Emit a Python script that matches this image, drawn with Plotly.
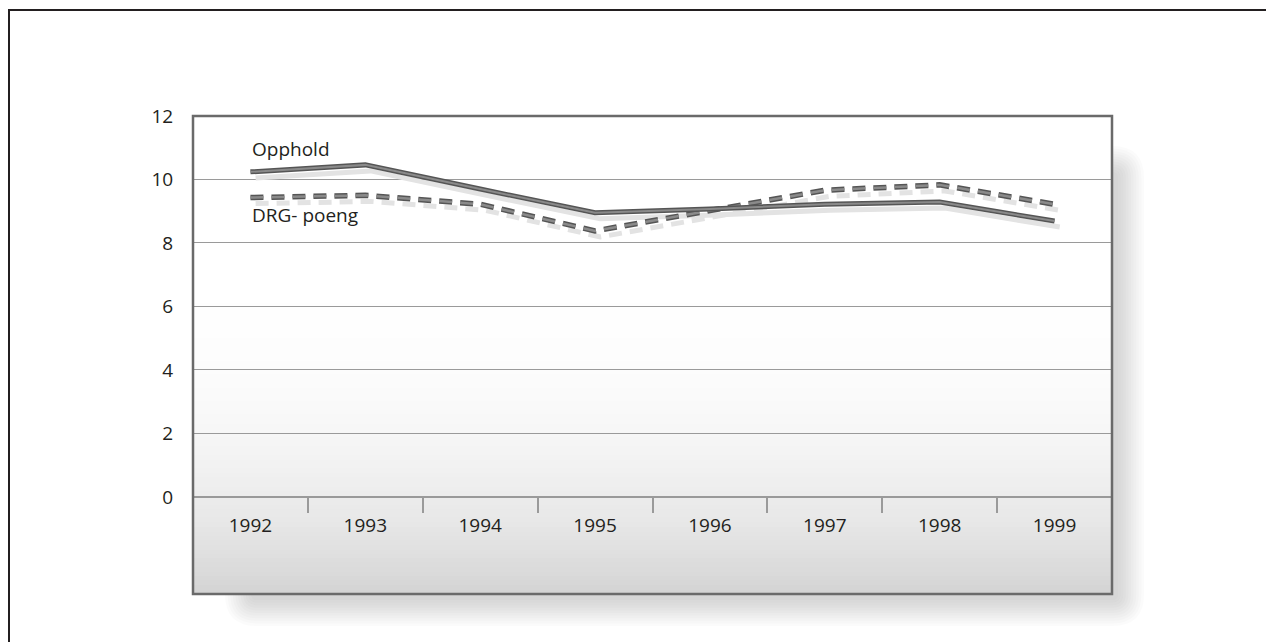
import plotly.graph_objects as go

# ---- data ----
years = ["1992", "1993", "1994", "1995", "1996", "1997", "1998", "1999"]
opphold = [10.24, 10.46, 9.70, 8.95, 9.07, 9.22, 9.29, 8.69]
drg_poeng = [9.43, 9.50, 9.22, 8.38, 9.02, 9.66, 9.83, 9.22]
y_ticks = [0, 2, 4, 6, 8, 10, 12]
label_opphold = "Opphold"
label_drg = "DRG- poeng"

# ---- style ----
W_FIG, H_FIG = 1274, 642
OFF = 8  # page body margin
L, T = 193 - OFF, 116 - OFF
PW, PH = 919, 478
R, B = W_FIG - L - PW, H_FIG - T - PH
Y_MIN, Y_MAX = -3.06, 12
SHADOW_DX, SHADOW_DY = 0.045, -0.19
FONT = "Open Sans"
FS = 19


idx = list(range(len(years)))
sx = [i + SHADOW_DX for i in idx]


def pxx(px):
    # px in screen coordinates
    return (px - OFF - L) / PW


def pxy(py):
    return (T + PH - (py - OFF)) / PH


def rrect(x0, y0, x1, y1, r):
    X0, X1 = pxx(x0), pxx(x1)
    Y0, Y1 = pxy(y0), pxy(y1)
    rx, ry = r / PW, r / PH
    return (f"M {X0+rx},{Y0} L {X1-rx},{Y0} Q {X1},{Y0} {X1},{Y0-ry} "
            f"L {X1},{Y1+ry} Q {X1},{Y1} {X1-rx},{Y1} L {X0+rx},{Y1} "
            f"Q {X0},{Y1} {X0},{Y1+ry} L {X0},{Y0-ry} Q {X0},{Y0} {X0+rx},{Y0} Z")


fig = go.Figure()

# shadows of lines
fig.add_trace(go.Scatter(x=sx, y=[v + SHADOW_DY for v in opphold], mode="lines",
                         line=dict(color="#e3e3e3", width=5), hoverinfo="skip", showlegend=False))
fig.add_trace(go.Scatter(x=sx, y=[v + SHADOW_DY for v in drg_poeng], mode="lines",
                         line=dict(color="#e3e3e3", width=5, dash="13px,8px"), hoverinfo="skip", showlegend=False))
# main lines (outline + fill)
fig.add_trace(go.Scatter(x=idx, y=drg_poeng, mode="lines",
                         line=dict(color="#555555", width=5.5, dash="13px,8px"), showlegend=False))
fig.add_trace(go.Scatter(x=idx, y=drg_poeng, mode="lines",
                         line=dict(color="#8a8a8a", width=2.5, dash="13px,8px"), showlegend=False))
fig.add_trace(go.Scatter(x=idx, y=opphold, mode="lines",
                         line=dict(color="#555555", width=5), showlegend=False))
fig.add_trace(go.Scatter(x=idx, y=opphold, mode="lines",
                         line=dict(color="#8a8a8a", width=2), showlegend=False))

shapes = []
# drop shadow of the box
for i in range(11):
    ins = i * 2.6
    shapes.append(dict(type="path", xref="paper", yref="paper", layer="below",
                       path=rrect(225 + ins, 146 + ins, 1144 - ins, 626 - ins, max(32 - ins, 6)),
                       fillcolor="rgba(120,120,120,0.032)", line=dict(width=0)))
# plot area background with vertical gradient
shapes.append(dict(type="rect", xref="paper", yref="paper", x0=0, x1=1, y0=0, y1=1,
                   layer="below", fillcolor="white", line=dict(width=0)))
N = 80
top = 0.75
for k in range(N):
    y0 = top * k / N
    y1 = top * (k + 1) / N + 0.002
    t = (1 - (y0 + y1) / 2 / top)
    g = int(round(255 - 44 * t ** 2.7))
    shapes.append(dict(type="rect", xref="paper", yref="paper", x0=0, x1=1, y0=y0, y1=y1,
                       layer="below", fillcolor=f"rgb({g},{g},{g})", line=dict(width=0)))
# box border
shapes.append(dict(type="rect", xref="paper", yref="paper", x0=0, x1=1, y0=0, y1=1,
                   layer="above", line=dict(color="#6a6a6a", width=2.5)))
# outer frame
shapes.append(dict(type="rect", xref="paper", yref="paper",
                   x0=pxx(9), x1=pxx(1300), y0=pxy(670), y1=pxy(10),
                   layer="above", line=dict(color="#231f20", width=2)))

zero_pos = (0 - Y_MIN) / (Y_MAX - Y_MIN)

fig.update_layout(
    width=W_FIG, height=H_FIG,
    margin=dict(l=L, r=R, t=T, b=B),
    paper_bgcolor="white", plot_bgcolor="white",
    font=dict(family=FONT, size=FS, color="#231f20"),
    shapes=shapes,
    xaxis=dict(range=[-0.5, len(years) - 0.5], tickvals=idx, ticktext=years,
               showgrid=False, zeroline=False, anchor="free", position=zero_pos,
               showline=True, linecolor="#9a9a9a", linewidth=1.5,
               ticks="outside", ticklen=12, tickcolor="rgba(0,0,0,0)",
               minor=dict(tickvals=[i + 0.5 for i in idx[:-1]], ticks="outside",
                          ticklen=15, tickcolor="#9a9a9a", tickwidth=1.5),
               tickfont=dict(size=FS, color="#231f20"), fixedrange=True),
    yaxis=dict(range=[Y_MIN, Y_MAX], tickvals=y_ticks, showgrid=True,
               gridcolor="#9a9a9a", gridwidth=1, zeroline=False,
               ticks="outside", ticklen=15, tickcolor="rgba(0,0,0,0)",
               tickfont=dict(size=FS, color="#231f20"), fixedrange=True),
    annotations=[
        dict(x=0, y=10.97, xref="x", yref="y", text=label_opphold, showarrow=False,
             xanchor="left", yanchor="middle", font=dict(size=FS, color="#231f20")),
        dict(x=0, y=8.88, xref="x", yref="y", text=label_drg, showarrow=False,
             xanchor="left", yanchor="middle", font=dict(size=FS, color="#231f20")),
    ],
)

fig.write_html("out.html")
